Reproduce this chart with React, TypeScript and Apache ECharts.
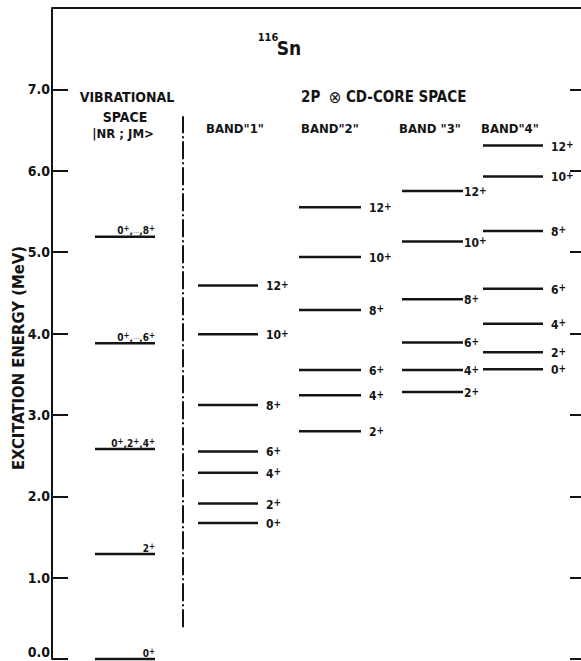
import React, { useEffect, useRef } from "react";
import * as echarts from "echarts";

// Excitation energies (MeV) and spin labels for each level scheme
const VIB_ENERGY = [0.0, 1.29, 2.58, 3.88, 5.19];
const VIB_SPIN = [["0"], ["2"], ["0", "2", "4"], ["0", "…", "6"], ["0", "…", "8"]];

const BAND1_ENERGY = [1.67, 1.91, 2.29, 2.55, 3.12, 3.99, 4.59];
const BAND1_SPIN = ["0", "2", "4", "6", "8", "10", "12"];

const BAND2_ENERGY = [2.8, 3.24, 3.55, 4.29, 4.94, 5.55];
const BAND2_SPIN = ["2", "4", "6", "8", "10", "12"];

const BAND3_ENERGY = [3.28, 3.55, 3.89, 4.42, 5.13, 5.75];
const BAND3_SPIN = ["2", "4", "6", "8", "10", "12"];

const BAND4_ENERGY = [3.56, 3.77, 4.12, 4.55, 5.26, 5.93, 6.31];
const BAND4_SPIN = ["0", "2", "4", "6", "8", "10", "12"];

// Energy axis
const E_MIN = 0;
const E_MAX = 8;
const E_STEP = 1;

// Divider between the vibrational space and the 2P (x) CD-core space
const DIVIDER_ENERGY = [0.39, 6.67];

const FONT = '"DejaVu Sans Condensed", "DejaVu Sans", sans-serif';
const INK = "#141414";

// Horizontal layout of the columns (x axis runs in pixel units across the plot)
const X_SPAN = 529;
const DIVIDER_X = 131;

// Spin with a raised parity sign, as rich text
const spinRich = (s: string) => `{n|${s}}{s|+}`;
const vibRich = (parts: string[]) =>
  parts
    .map((p, i) => {
      const last = i === parts.length - 1;
      if (p === "…") return "{d|…}{v|,}";
      return `{v|${p}}{t|+}` + (last ? "" : "{v|,}");
    })
    .join("");

const RICH = {
  n: { fontSize: 12, fontFamily: FONT, fontWeight: "bold", fill: INK, color: INK, lineHeight: 14 },
  s: { fontSize: 10, fontFamily: FONT, fontWeight: "bold", fill: INK, color: INK, verticalAlign: "top", lineHeight: 9 },
  t: { fontSize: 8, fontFamily: FONT, fontWeight: "bold", fill: INK, color: INK, verticalAlign: "top", lineHeight: 8 },
  d: { fontSize: 7, fontFamily: FONT, fill: INK, color: INK, lineHeight: 12 },
  v: { fontSize: 10, fontFamily: FONT, fontWeight: "bold", fill: INK, color: INK, lineHeight: 12 },
};

type Column = {
  energy: number[];
  labels: string[];
  x0: number;
  x1: number;
  labelMode: "above" | "right";
  gap: number;
};
const COLUMNS: Column[] = [
  { energy: VIB_ENERGY, labels: VIB_SPIN.map(vibRich), x0: 43, x1: 103, labelMode: "above", gap: 0 },
  { energy: BAND1_ENERGY, labels: BAND1_SPIN.map(spinRich), x0: 146, x1: 206, labelMode: "right", gap: 8 },
  { energy: BAND2_ENERGY, labels: BAND2_SPIN.map(spinRich), x0: 247, x1: 309, labelMode: "right", gap: 8 },
  { energy: BAND3_ENERGY, labels: BAND3_SPIN.map(spinRich), x0: 350, x1: 411, labelMode: "right", gap: 1 },
  { energy: BAND4_ENERGY, labels: BAND4_SPIN.map(spinRich), x0: 431, x1: 491, labelMode: "right", gap: 8 },
];

function levelSeries(col: Column) {
  return {
    type: "custom",
    coordinateSystem: "cartesian2d",
    xAxisIndex: 0,
    yAxisIndex: 0,
    silent: true,
    clip: false,
    data: col.energy.map((e) => [(col.x0 + col.x1) / 2, e]),
    encode: { x: 0, y: 1 },
    renderItem: (params: any, api: any) => {
      const e = api.value(1);
      const p0 = api.coord([col.x0, e]);
      const p1 = api.coord([col.x1, e]);
      const label = col.labels[params.dataIndex];
      const above = col.labelMode === "above";
      return {
        type: "group",
        children: [
          {
            type: "line",
            shape: { x1: p0[0], y1: p0[1], x2: p1[0], y2: p1[1] },
            style: { stroke: INK, lineWidth: 2.5 },
          },
          {
            type: "text",
            x: above ? p1[0] : p1[0] + col.gap,
            y: above ? p1[1] : p1[1] + 1,
            style: {
              text: label,
              rich: RICH,
              fill: INK,
              fontSize: 12,
              fontFamily: FONT,
              align: above ? "right" : "left",
              verticalAlign: above ? "bottom" : "middle",
            },
          },
        ],
      };
    },
  };
}

function txt(x: number, y: number, text: string, size: number, align = "center", bold = true) {
  return {
    type: "text",
    x,
    y,
    style: {
      text,
      fill: INK,
      fontSize: size,
      fontWeight: bold ? "bold" : "normal",
      fontFamily: FONT,
      align,
      verticalAlign: "middle",
    },
  };
}

export default function App() {
  const ref = useRef<HTMLDivElement>(null);

  useEffect(() => {
    if (!ref.current) return;
    const chart = echarts.init(ref.current, undefined, { renderer: "svg" });
    chart.setOption({
      animation: false,
      backgroundColor: "#ffffff",
      grid: {
        left: 52,
        right: 0,
        top: 8,
        bottom: 2,
        containLabel: false,
        outerBoundsMode: "none",
      },
      xAxis: {
        type: "value",
        position: "top",
        min: 0,
        max: X_SPAN,
        show: false,
      },
      yAxis: [
        {
          type: "value",
          position: "left",
          min: E_MIN,
          max: E_MAX,
          interval: E_STEP,
          axisLine: { show: true, onZero: false, lineStyle: { color: INK, width: 2 } },
          axisTick: { show: true, inside: true, length: 16, lineStyle: { color: INK, width: 2 } },
          axisLabel: {
            color: INK,
            fontSize: 14,
            fontWeight: "bold",
            fontFamily: FONT,
            margin: 2,
            verticalAlignMinLabel: "bottom",
            formatter: (v: number) => (v >= E_MAX ? "" : v.toFixed(1)),
          },
          splitLine: { show: false },
        },
        {
          type: "value",
          position: "right",
          min: E_MIN,
          max: E_MAX,
          interval: E_STEP,
          axisLine: { show: false, onZero: false },
          axisTick: { show: true, inside: true, length: 11, lineStyle: { color: INK, width: 2 } },
          axisLabel: { show: false },
          splitLine: { show: false },
        },
      ],
      series: [
        ...COLUMNS.map(levelSeries),
        {
          type: "line",
          silent: true,
          symbol: "none",
          data: DIVIDER_ENERGY.map((e) => [DIVIDER_X, e]),
          lineStyle: { color: INK, width: 2, type: [18, 3, 2, 3] },
          // top frame of the diagram
          markLine: {
            silent: true,
            symbol: "none",
            label: { show: false },
            lineStyle: { color: INK, width: 2, type: "solid" },
            data: [{ yAxis: E_MAX }],
          },
        },
      ],
      graphic: [
        txt(268, 37, "116", 11),
        txt(289, 48, "Sn", 19),
        txt(127, 97, "VIBRATIONAL", 14),
        txt(125, 117, "SPACE", 14),
        txt(123, 133, "|NR ; JM>", 13),
        {
          type: "text",
          x: 301,
          y: 97,
          style: {
            text: "{a|2P}  {o|⊗} {a|CD-CORE SPACE}",
            rich: {
              a: { fontSize: 15, fontWeight: "bold", fontFamily: FONT, fill: INK, color: INK },
              o: { fontSize: 17, fontFamily: FONT, fill: INK, color: INK },
            },
            fill: INK,
            fontSize: 15,
            fontFamily: FONT,
            align: "left",
            verticalAlign: "middle",
          },
        },
        txt(235, 128, 'BAND"1"', 13),
        txt(301, 128, 'BAND"2"', 13, "left"),
        txt(399, 128, 'BAND "3"', 13, "left"),
        txt(481, 128, 'BAND"4"', 13, "left"),
        {
          type: "text",
          x: 18,
          y: 358,
          rotation: Math.PI / 2,
          style: {
            text: "EXCITATION ENERGY (MeV)",
            fill: INK,
            fontSize: 16.5,
            fontWeight: "bold",
            fontFamily: FONT,
            align: "center",
            verticalAlign: "middle",
          },
        },
      ],
    });
    return () => chart.dispose();
  }, []);

  return (
    <div
      ref={ref}
      style={{ position: "absolute", left: 0, top: 0, width: 581, height: 661 }}
    />
  );
}
